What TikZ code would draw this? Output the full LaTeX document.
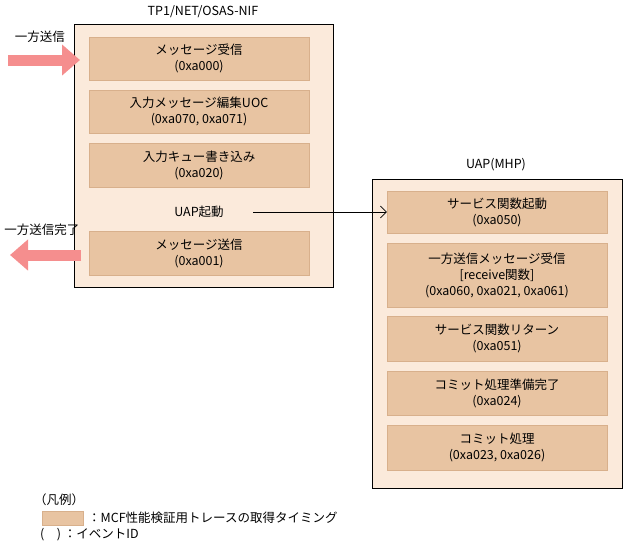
\documentclass[tikz,border=0pt]{standalone}
\usepackage{fontspec}
\setmainfont{Noto Sans CJK JP}
\usetikzlibrary{arrows.meta}
\definecolor{outerf}{HTML}{FBEADB}
\definecolor{innerf}{HTML}{E8C4A2}
\definecolor{innerd}{HTML}{D8B08C}
\definecolor{pinkar}{HTML}{F58E8E}
\tikzset{
 outer/.style={draw=black, fill=outerf, line width=0.9pt},
 ev/.style={draw=innerd, fill=innerf, minimum width=220pt, align=center, font=\fontsize{12.5}{16}\selectfont, inner sep=0pt},
 lbl/.style={font=\fontsize{12.5}{15}\selectfont, inner sep=0pt},
 fat/.style={draw=pinkar, line width=11pt, -{Triangle[length=18pt,width=30pt]}}
}
\begin{document}
\begin{tikzpicture}[x=1pt,y=-1pt]
\useasboundingbox (0,0) rectangle (627,547);
\node[lbl] (t1) at (203,12) {TP1/NET/OSAS-NIF};
\draw[outer] (74,24) rectangle (333,287);
\node[ev, minimum height=43pt] (a1) at (199,58.5) {メッセージ受信\\(0xa000)};
\node[ev, minimum height=43pt] (a2) at (199,111.5) {入力メッセージ編集UOC\\(0xa070,\ 0xa071)};
\node[ev, minimum height=44pt] (a3) at (199,165) {入力キュー書き込み\\(0xa020)};
\node[lbl] (uap) at (199,212) {UAP起動};
\node[ev, minimum height=44pt] (a5) at (199,253) {メッセージ送信\\(0xa001)};
\node[lbl] (l1) at (40,37) {一方送信};
\coordinate (i0) at (8,60); \coordinate (i1) at (80,60);
\draw[fat] (i0) -- (i1);
\node[lbl] (l2) at (42,230) {一方送信完了};
\coordinate (o0) at (81,255); \coordinate (o1) at (10,255);
\draw[fat] (o0) -- (o1);
\node[lbl] (t2) at (496,165) {UAP(MHP)};
\draw[outer] (372,179) rectangle (622,488);
\node[ev, minimum height=42pt] (b1) at (497,212) {サービス関数起動\\(0xa050)};
\node[ev, minimum height=64pt] (b2) at (497,275) {一方送信メッセージ受信\\{[}receive関数{]}\\(0xa060,\ 0xa021,\ 0xa061)};
\node[ev, minimum height=45pt] (b3) at (497,338.5) {サービス関数リターン\\(0xa051)};
\node[ev, minimum height=44pt] (b4) at (497,393) {コミット処理準備完了\\(0xa024)};
\node[ev, minimum height=45pt] (b5) at (497,447.5) {コミット処理\\(0xa023,\ 0xa026)};
\coordinate (s) at (253,212);
\draw[-{Straight Barb[length=6pt]}, line width=0.6pt] (s) -- (b1.west);
\node[lbl, anchor=west] (lg) at (34,500) {（凡例）};
\node[draw=innerd, fill=innerf, minimum width=41pt, minimum height=14pt, inner sep=0pt] (lb) at (62.5,518) {};
\node[lbl, anchor=west] (lt1) at (88,518) {：MCF性能検証用トレースの取得タイミング};
\node[lbl, anchor=west] (lt2) at (40,535) {(\quad)\ ：イベントID};
\end{tikzpicture}
\end{document}
